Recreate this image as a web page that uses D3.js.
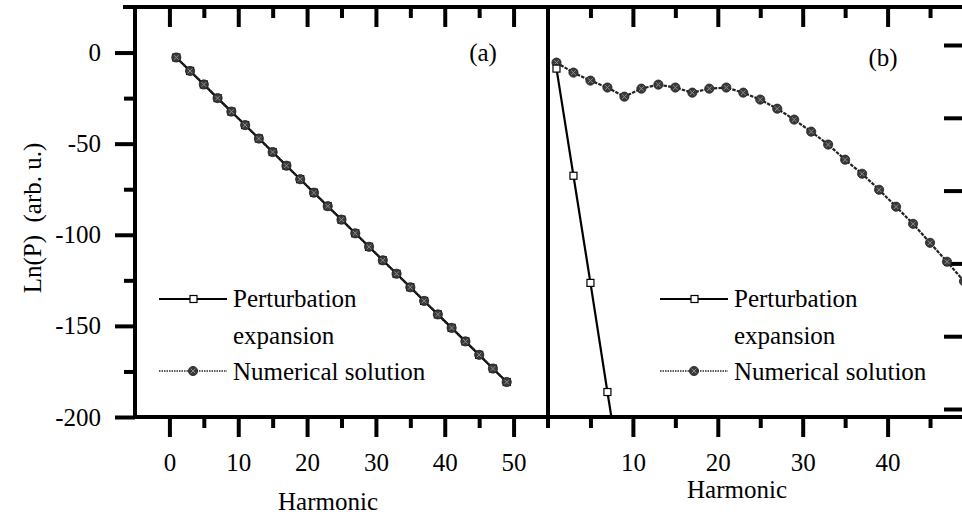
<!DOCTYPE html>
<html>
<head>
<meta charset="utf-8">
<script src="https://cdn.jsdelivr.net/npm/d3@7"></script>
<style>
  body { margin: 0; background: #fff; }
  svg { display: block; font-family: "Liberation Serif", "Times New Roman", serif; }
</style>
</head>
<body>
<div class="svgContainer"></div>
<script>
// odd harmonics used in both panels
const HARMONICS = [1, 3, 5, 7, 9, 11, 13, 15, 17, 19, 21, 23, 25, 27, 29, 31, 33, 35, 37, 39, 41, 43, 45, 47, 49];

// panel (a)
const A_PERT = [-2.7, -10.1, -17.5, -25.0, -32.4, -39.8, -47.2, -54.6, -62.1, -69.5, -76.9, -84.3, -91.7,
    -99.2, -106.6, -114.0, -121.4, -128.8, -136.3, -143.7, -151.1, -158.5, -165.9, -173.4, -180.8];
const A_NUM = [-2.7, -10.1, -17.5, -25.0, -32.4, -39.8, -47.2, -54.6, -62.1, -69.5, -76.9, -84.3, -91.7,
    -99.2, -106.6, -114.0, -121.4, -128.8, -136.3, -143.7, -151.1, -158.5, -165.9, -173.4, -180.8];

// panel (b)
const B_PERT_HARM = [1, 3, 5, 7, 9];
const B_PERT = [-8.8, -67.6, -126.4, -186.3, -245.0];
const B_NUM = [-5.5, -11.0, -15.4, -19.2, -24.2, -19.8, -17.6, -19.2, -22.0, -19.8, -19.2, -22.0, -25.8,
    -30.8, -36.8, -43.4, -50.5, -58.8, -66.5, -75.3, -84.6, -94.0, -104.4, -114.8, -125.5];

// ticks
const Y_MAJOR = [0, -50, -100, -150, -200];
const Y_MINOR = [-25, -75, -125, -175];
const A_X_MAJOR = [0, 10, 20, 30, 40, 50];
const A_X_MINOR = [5, 15, 25, 35, 45];
const B_X_MAJOR = [10, 20, 30, 40];
const B_X_MINOR = [5, 15, 25, 35, 45];
const B_RIGHT_TICKS = [0, -40, -80, -120, -160, -200];

const W = 962, H = 517;
const LEFT = 135, MID = 548, RIGHT = 964, TOP = 7, BOTTOM = 417;
const MAJOR = 20, MINOR = 11, FONT = 25;

const svg = d3.select('.svgContainer')
    .append('svg')
    .attr('width', W)
    .attr('height', H);

const xA = d3.scaleLinear().domain([-5, 55]).range([LEFT, MID]);
const xB = d3.scaleLinear().domain([0, 49]).range([MID, RIGHT]);
const y = d3.scaleLinear().domain([-200, 25]).range([BOTTOM, TOP]);
const yR = d3.scaleLinear().domain([-200, 0]).range([409, 45]);

// clip areas for the two panels
const defs = svg.append('defs');
defs.append('clipPath').attr('id', 'clipA')
    .append('rect').attr('x', LEFT).attr('y', TOP).attr('width', MID - LEFT).attr('height', BOTTOM - TOP);
defs.append('clipPath').attr('id', 'clipB')
    .append('rect').attr('x', MID).attr('y', TOP).attr('width', RIGHT - MID).attr('height', BOTTOM - TOP);

function styleAxis(g, labels) {
    g.select('.domain').remove();
    g.selectAll('.tick line').attr('stroke', '#000').attr('stroke-width', 4);
    g.selectAll('.tick text')
        .attr('fill', '#000')
        .style('font-size', FONT + 'px')
        .style('font-family', '"Liberation Serif", serif');
    if (!labels) g.selectAll('.tick text').remove();
}

function addAxis(axis, tx, ty, labels) {
    svg.append('g')
        .attr('transform', `translate(${tx}, ${ty})`)
        .call(axis.tickFormat(d => String(d)))
        .call(g => styleAxis(g, labels));
}

// left y axis (outward ticks)
addAxis(d3.axisLeft(y).tickValues(Y_MAJOR).tickSize(MAJOR).tickPadding(14), LEFT, 0, true);
addAxis(d3.axisLeft(y).tickValues(Y_MINOR).tickSize(MINOR), LEFT, 0, false);

// bottom x axes
addAxis(d3.axisBottom(xA).tickValues(A_X_MAJOR).tickSize(MAJOR).tickPadding(16), 0, BOTTOM, true);
addAxis(d3.axisBottom(xA).tickValues(A_X_MINOR).tickSize(MINOR), 0, BOTTOM, false);
addAxis(d3.axisBottom(xB).tickValues(B_X_MAJOR).tickSize(MAJOR).tickPadding(16), 0, BOTTOM, true);
addAxis(d3.axisBottom(xB).tickValues(B_X_MINOR).tickSize(MINOR), 0, BOTTOM, false);

// top axes (inward ticks)
addAxis(d3.axisTop(xA).tickValues(A_X_MAJOR).tickSize(-MAJOR), 0, TOP, false);
addAxis(d3.axisTop(xA).tickValues(A_X_MINOR).tickSize(-MINOR), 0, TOP, false);
addAxis(d3.axisTop(xB).tickValues(B_X_MAJOR).tickSize(-MAJOR), 0, TOP, false);
addAxis(d3.axisTop(xB).tickValues(B_X_MINOR).tickSize(-MINOR), 0, TOP, false);

// right axis of panel (b), no labels
addAxis(d3.axisRight(yR).tickValues(B_RIGHT_TICKS).tickSize(-MAJOR), RIGHT, 0, false);

// frame
const frame = svg.append('g').attr('stroke', '#000').attr('stroke-width', 4);
frame.append('line').attr('x1', 123).attr('x2', RIGHT + 2).attr('y1', TOP).attr('y2', TOP);
frame.append('line').attr('x1', LEFT - 2).attr('x2', RIGHT + 2).attr('y1', BOTTOM).attr('y2', BOTTOM);
frame.append('line').attr('x1', LEFT).attr('x2', LEFT).attr('y1', TOP - 2).attr('y2', BOTTOM + 2);
frame.append('line').attr('x1', MID).attr('x2', MID).attr('y1', TOP - 2).attr('y2', BOTTOM + MINOR);
frame.append('line').attr('x1', RIGHT).attr('x2', RIGHT).attr('y1', TOP - 2).attr('y2', BOTTOM + 2);

// series drawing helpers
function drawPert(g, xs, harm, vals) {
    const pts = harm.map((h, i) => [xs(h), y(vals[i])]);
    g.append('path')
        .attr('d', d3.line()(pts))
        .attr('fill', 'none')
        .attr('stroke', '#000')
        .attr('stroke-width', 2.2);
    g.selectAll(null).data(pts).enter()
        .append('rect')
        .attr('x', d => d[0] - 3.5)
        .attr('y', d => d[1] - 3.5)
        .attr('width', 7)
        .attr('height', 7)
        .attr('fill', '#fff')
        .attr('stroke', '#000')
        .attr('stroke-width', 1.2);
}

function numMarker(sel, cx, cy) {
    sel.append('circle').attr('cx', cx).attr('cy', cy).attr('r', 4.6)
        .attr('fill', '#3a3a3a').attr('stroke', '#1e1e1e').attr('stroke-width', 0.8);
    sel.append('path')
        .attr('d', `M${cx - 2.3},${cy - 2.3}L${cx + 2.3},${cy + 2.3}M${cx - 2.3},${cy + 2.3}L${cx + 2.3},${cy - 2.3}`)
        .attr('stroke', '#8e8e8e').attr('stroke-width', 1);
}

function drawNum(g, xs, harm, vals) {
    const pts = harm.map((h, i) => [xs(h), y(vals[i])]);
    g.append('path')
        .attr('d', d3.line()(pts))
        .attr('fill', 'none')
        .attr('stroke', '#222')
        .attr('stroke-width', 2.2)
        .attr('stroke-dasharray', '3.5,1.2');
    pts.forEach(p => numMarker(g, p[0], p[1]));
}

// panel (a)
const panelA = svg.append('g').attr('clip-path', 'url(#clipA)');
drawPert(panelA, xA, HARMONICS, A_PERT);
drawNum(panelA, xA, HARMONICS, A_NUM);

// panel (b)
const panelB = svg.append('g').attr('clip-path', 'url(#clipB)');
drawNum(panelB, xB, HARMONICS, B_NUM);
drawPert(panelB, xB, B_PERT_HARM, B_PERT);

// legends
function legend(x0) {
    const g = svg.append('g');
    g.append('line').attr('x1', x0).attr('x2', x0 + 68).attr('y1', 299).attr('y2', 299)
        .attr('stroke', '#000').attr('stroke-width', 2);
    g.append('rect').attr('x', x0 + 31).attr('y', 295.5).attr('width', 7).attr('height', 7)
        .attr('fill', '#fff').attr('stroke', '#000').attr('stroke-width', 1.2);
    g.append('line').attr('x1', x0).attr('x2', x0 + 68).attr('y1', 371).attr('y2', 371)
        .attr('stroke', '#2a2a2a').attr('stroke-width', 1.6).attr('stroke-dasharray', '1.5,1');
    numMarker(g, x0 + 34, 371);
    const t = g.append('g').style('font-size', FONT + 'px').attr('fill', '#000');
    t.append('text').attr('x', x0 + 74).attr('y', 307).text('Perturbation');
    t.append('text').attr('x', x0 + 74).attr('y', 344).text('expansion');
    t.append('text').attr('x', x0 + 74).attr('y', 380).text('Numerical solution');
}
legend(159);
legend(660);

// panel labels
svg.append('text').attr('x', 483).attr('y', 61).attr('text-anchor', 'middle')
    .style('font-size', FONT + 'px').text('(a)');
svg.append('text').attr('x', 883).attr('y', 66).attr('text-anchor', 'middle')
    .style('font-size', FONT + 'px').text('(b)');

// axis titles
svg.append('text').attr('x', 328).attr('y', 510).attr('text-anchor', 'middle')
    .style('font-size', FONT + 'px').text('Harmonic');
svg.append('text').attr('x', 737).attr('y', 498).attr('text-anchor', 'middle')
    .style('font-size', FONT + 'px').text('Harmonic');
svg.append('text')
    .attr('transform', 'translate(41, 218) rotate(-90)')
    .attr('text-anchor', 'middle')
    .style('font-size', '25px')
    .style('white-space', 'pre')
    .text('Ln(P)  (arb. u.)');
</script>
</body>
</html>
